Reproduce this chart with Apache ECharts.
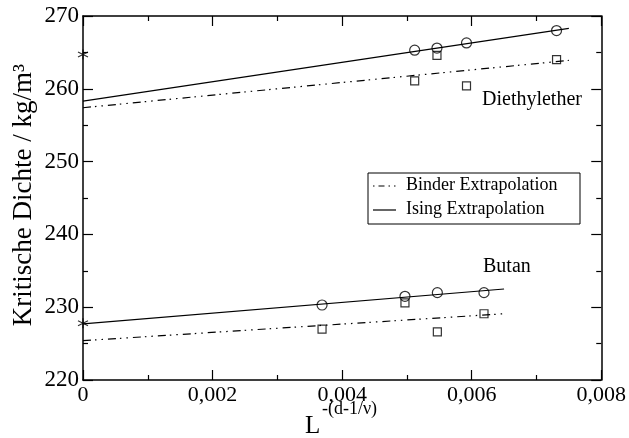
<!DOCTYPE html>
<html>
<head>
<meta charset="utf-8">
<script src="https://cdn.jsdelivr.net/npm/echarts@6/dist/echarts.min.js"></script>
<style>html,body{margin:0;padding:0;background:#fff;}#c{width:629px;height:438px;}</style>
</head>
<body>
<div id="c"></div>
<script>
// Data
const dieX = [0.00512, 0.005464, 0.00592, 0.00731];
const dieIsingPts = [265.3, 265.6, 266.3, 268.0];
const dieBinderPts = [261.1, 264.6, 260.4, 264.0];
const butX = [0.00369, 0.00497, 0.00547, 0.00619];
const butIsingPts = [230.3, 231.5, 232.0, 232.0];
const butBinderPts = [227.0, 230.6, 226.6, 229.1];
const dieIsingFitX = [0, 0.0075];
const dieIsingFitY = [258.3, 268.3];
const dieBinderFitX = [0, 0.0075];
const dieBinderFitY = [257.4, 263.9];
const butIsingFitX = [0, 0.0065];
const butIsingFitY = [227.7, 232.5];
const butBinderFitX = [0, 0.0065];
const butBinderFitY = [225.4, 229.1];
const starX = [0, 0];
const starY = [264.7, 227.8];
const xTicks = [0, 0.002, 0.004, 0.006, 0.008];
const yTicks = [220, 230, 240, 250, 260, 270];

const zip = (xs, ys) => xs.map((x, i) => [x, ys[i]]);
const FONT = '"Liberation Serif", "DejaVu Serif", serif';
const dashDotDot = [8, 4, 1.5, 5, 1.5, 5];

const chart = echarts.init(document.getElementById('c'), null, {renderer: 'canvas'});

function axisBase(extra) {
  return Object.assign({
    type: 'value',
    splitLine: {show: false},
    axisLine: {show: true, onZero: false, lineStyle: {color: '#000', width: 1.5}},
    axisTick: {show: true, inside: true, length: 10, lineStyle: {color: '#000', width: 1.2}},
    minorTick: {show: true, splitNumber: 2, length: 5, lineStyle: {color: '#000', width: 1.2}},
    minorSplitLine: {show: false}
  }, extra);
}

const xMin = xTicks[0], xMax = xTicks[xTicks.length - 1], xInt = xTicks[1] - xTicks[0];
const yMin = yTicks[0], yMax = yTicks[yTicks.length - 1], yInt = yTicks[1] - yTicks[0];

const lineS = (xs, ys, dash) => ({
  type: 'line', data: zip(xs, ys), showSymbol: false, symbol: 'none', silent: true,
  lineStyle: {color: '#000', width: 1.2, type: dash || 'solid'}, z: 2, clip: false
});
const scat = (xs, ys, sym, size) => ({
  type: 'scatter', data: zip(xs, ys), symbol: sym, symbolSize: size, silent: true,
  itemStyle: {color: 'rgba(0,0,0,0)', borderColor: '#000', borderWidth: 1.2}, z: 3, clip: false
});

chart.setOption({
  animation: false,
  backgroundColor: '#fff',
  grid: {left: 83, right: 27, top: 16, bottom: 58, containLabel: false},
  xAxis: [
    axisBase({position: 'bottom', min: xMin, max: xMax, interval: xInt,
      axisLabel: {color: '#000', fontFamily: FONT, fontSize: 22, margin: 4,
        formatter: v => v === 0 ? '0' : v.toFixed(3).replace('.', ',')}}),
    axisBase({position: 'top', min: xMin, max: xMax, interval: xInt, axisLabel: {show: false}})
  ],
  yAxis: [
    axisBase({position: 'left', min: yMin, max: yMax, interval: yInt,
      axisLabel: {color: '#000', fontFamily: FONT, fontSize: 23, margin: 4}}),
    axisBase({position: 'right', min: yMin, max: yMax, interval: yInt, axisLabel: {show: false}})
  ],
  series: [
    lineS(dieIsingFitX, dieIsingFitY),
    lineS(dieBinderFitX, dieBinderFitY, dashDotDot),
    lineS(butIsingFitX, butIsingFitY),
    lineS(butBinderFitX, butBinderFitY, dashDotDot),
    scat(dieX, dieIsingPts, 'circle', 10),
    scat(dieX, dieBinderPts, 'rect', 8),
    scat(butX, butIsingPts, 'circle', 10),
    scat(butX, butBinderPts, 'rect', 8),
    scat(starX, starY, 'path://M5,0L5,10M0.7,2.5L9.3,7.5M9.3,2.5L0.7,7.5', 10)
  ],
  graphic: [
    {type: 'text', left: 482, top: 90, style: {text: 'Diethylether', font: '20px ' + FONT, fill: '#000'}},
    {type: 'text', left: 483, top: 257, style: {text: 'Butan', font: '20px ' + FONT, fill: '#000'}},
    // legend
    {type: 'rect', shape: {x: 368, y: 173, width: 212, height: 51}, style: {fill: '#fff', stroke: '#000', lineWidth: 1}, z: 10},
    {type: 'line', shape: {x1: 373, y1: 186, x2: 396, y2: 186}, style: {stroke: '#000', lineWidth: 1.2, lineDash: [1.5, 4, 6, 4, 1.5, 4]}, z: 11},
    {type: 'line', shape: {x1: 373, y1: 210, x2: 396, y2: 210}, style: {stroke: '#000', lineWidth: 1.2}, z: 11},
    {type: 'text', left: 406, top: 176, style: {text: 'Binder Extrapolation', font: '18px ' + FONT, fill: '#000'}, z: 11},
    {type: 'text', left: 406, top: 200, style: {text: 'Ising Extrapolation', font: '18px ' + FONT, fill: '#000'}, z: 11},
    // axis titles
    {type: 'text', left: 305, top: 414, style: {text: 'L', font: '25px ' + FONT, fill: '#000'}},
    {type: 'text', left: 322, top: 400, style: {text: '-(d-1/ν)', font: '18px ' + FONT, fill: '#000'}},
    {type: 'text', x: 24, y: 195, rotation: Math.PI / 2, style: {
      text: 'Kritische Dichte / kg/m³', font: '27px ' + FONT, fill: '#000', align: 'center', verticalAlign: 'middle'}}
  ]
});
</script>
</body>
</html>
